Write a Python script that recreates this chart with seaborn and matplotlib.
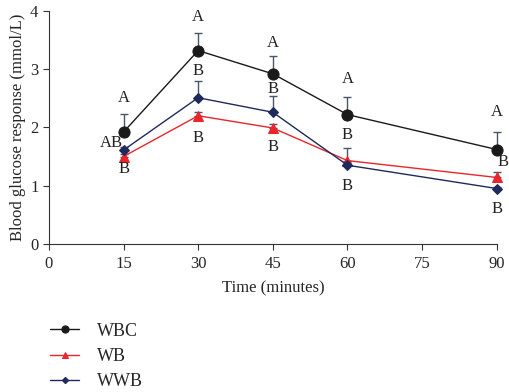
import numpy as np
import pandas as pd
import matplotlib
matplotlib.use("Agg")
import matplotlib.pyplot as plt
import seaborn as sns

# data
time = [15, 30, 45, 60, 90]
wbc = [1.92, 3.32, 2.92, 2.22, 1.62]
wb = [1.50, 2.20, 1.99, 1.43, 1.14]
wwb = [1.61, 2.51, 2.26, 1.35, 0.95]
wbc_err = [0.31, 0.30, 0.30, 0.30, 0.30]
wb_err = [0.05, 0.06, 0.06, 0.21, 0.09]
wwb_err = [0.05, 0.29, 0.28, 0.05, 0.03]

# significance letters: (time, y, text)
labels = [(15, 2.50, "A"), (15, 1.73, "AB"), (15, 1.28, "B"),
          (30, 3.90, "A"), (30, 2.97, "B"), (30, 1.82, "B"),
          (45, 3.45, "A"), (45, 2.66, "B"), (45, 1.67, "B"),
          (60, 2.83, "A"), (60, 1.87, "B"), (60, 1.00, "B"),
          (90, 2.27, "A"), (90, 1.41, "B"), (90, 0.60, "B")]

df = pd.DataFrame({
    "time": time * 3,
    "value": wbc + wb + wwb,
    "group": ["WBC"] * 5 + ["WB"] * 5 + ["WWB"] * 5,
})

sns.set_style("ticks")
plt.rcParams["font.family"] = ["Liberation Serif", "DejaVu Serif"]

fig = plt.figure(figsize=(5.09, 3.92), dpi=100)
ax = fig.add_axes([0.096, 0.378, 0.88, 0.594])

colors = {"WBC": "#1a1a1a", "WB": "#e8262b", "WWB": "#1f2a5c"}
markers = {"WBC": "o", "WB": "^", "WWB": "D"}
sizes = {"WBC": 8, "WB": 7, "WWB": 5}

errs = {"WBC": wbc_err, "WB": wb_err, "WWB": wwb_err}
for g in ["WBC", "WB", "WWB"]:
    sub = df[df["group"] == g]
    eb = ax.errorbar(sub["time"], sub["value"],
                     yerr=[np.zeros(len(sub)), errs[g]],
                     fmt="none", ecolor="#4a5566", elinewidth=1, capsize=3,
                     capthick=1, zorder=1)
    for art in eb.lines[1] + eb.lines[2]:
        art.set_clip_on(False)

for g in ["WBC", "WB", "WWB"]:
    sub = df[df["group"] == g]
    sns.lineplot(data=sub, x="time", y="value", ax=ax, color=colors[g],
                 marker=markers[g], markersize=sizes[g], markeredgecolor=colors[g],
                 linewidth=1, label=g, zorder=3, clip_on=False)

for t, y, s in labels:
    dx = 0
    if s == "AB":
        dx = -2.5
    if t == 90 and abs(y - 1.41) < 0.01:
        dx = 1.2
    ax.text(t + dx, y, s, ha="center", va="center", fontsize=12, color="#222222")

ax.set_xlim(0, 90)
ax.set_ylim(0, 4)
ax.set_xticks([0, 15, 30, 45, 60, 75, 90])
ax.set_yticks([0, 1, 2, 3, 4])
ax.tick_params(labelsize=12, direction="out", length=4, color="#333333")
ax.tick_params(axis="x", pad=5)
ax.set_xlabel("Time (minutes)", fontsize=12, labelpad=6)
ax.set_ylabel("Blood glucose response (mmol/L)", fontsize=12, labelpad=3)
sns.despine(ax=ax)
for sp in ["left", "bottom"]:
    ax.spines[sp].set_color("#333333")

handles, lbls = ax.get_legend_handles_labels()
ax.legend_.remove()
fig.legend(handles, lbls, loc="upper left", bbox_to_anchor=(0.085, 0.195),
           frameon=False, fontsize=13, handlelength=1.6, handletextpad=1.0,
           labelspacing=0.45, markerscale=0.65, borderaxespad=0)

fig.savefig("out.png", dpi=100)
